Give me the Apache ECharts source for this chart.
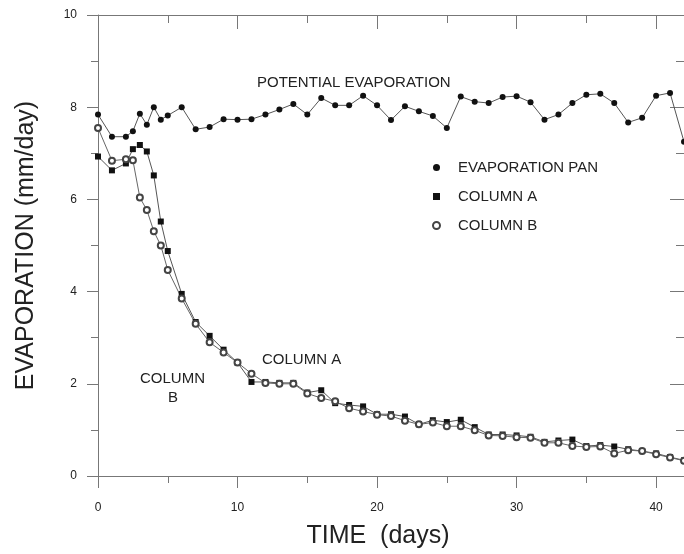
<!DOCTYPE html>
<html>
<head>
<meta charset="utf-8">
<title>Evaporation</title>
<script src="https://cdn.jsdelivr.net/npm/echarts@6/dist/echarts.min.js"></script>
<style>
  html, body { margin: 0; padding: 0; background: #fff; }
  #chart { width: 684px; height: 554px; }
</style>
</head>
<body>
<div id="chart"></div>
<script>
  // 时间 (days)
  var days = [0, 1, 2, 2.5, 3, 3.5, 4, 4.5, 5, 6, 7, 8, 9, 10, 11, 12, 13, 14, 15, 16, 17, 18, 19, 20,
    21, 22, 23, 24, 25, 26, 27, 28, 29, 30, 31, 32, 33, 34, 35, 36, 37, 38, 39, 40, 41, 42]

  // evaporation pan (potential evaporation)
  var panValues = [7.84, 7.36, 7.36, 7.48, 7.86, 7.62, 8.0, 7.73, 7.82, 8.0, 7.52, 7.57, 7.74, 7.73, 7.74,
    7.84, 7.95, 8.07, 7.84, 8.2, 8.04, 8.04, 8.25, 8.04, 7.72, 8.02, 7.91, 7.81, 7.55, 8.23, 8.12, 8.09,
    8.22, 8.24, 8.11, 7.73, 7.84, 8.09, 8.27, 8.29, 8.09, 7.67, 7.77, 8.25, 8.31, 7.25]

  var columnAValues = [6.93, 6.63, 6.78, 7.09, 7.18, 7.04, 6.52, 5.52, 4.88, 3.95, 3.34, 3.04, 2.74, 2.46,
    2.04, 2.04, 2.02, 2.02, 1.81, 1.86, 1.58, 1.54, 1.51, 1.34, 1.34, 1.29, 1.12, 1.21, 1.17, 1.22, 1.06,
    0.9, 0.9, 0.88, 0.85, 0.74, 0.77, 0.79, 0.65, 0.67, 0.64, 0.58, 0.54, 0.49, 0.41, 0.34]

  var columnBValues = [7.55, 6.84, 6.87, 6.85, 6.04, 5.77, 5.31, 5.0, 4.47, 3.85, 3.3, 2.9, 2.68, 2.46,
    2.22, 2.02, 2.0, 2.0, 1.79, 1.69, 1.62, 1.47, 1.4, 1.33, 1.3, 1.2, 1.12, 1.16, 1.08, 1.08, 0.99,
    0.88, 0.87, 0.84, 0.83, 0.72, 0.72, 0.65, 0.63, 0.64, 0.49, 0.56, 0.54, 0.47, 0.4, 0.33]

  var seriesNames = ['EVAPORATION PAN', 'COLUMN A', 'COLUMN B']

  var FONT = '"Liberation Sans", Arial, Helvetica, sans-serif'
  var AXIS_COLOR = '#777'
  var TEXT_COLOR = '#222'
  var NOTE_FONT = '15px ' + FONT

  function pairs(values) {
    return days.map(function (d, i) { return [d, values[i]] })
  }

  // 边框上的轴 (top / right): 只有刻度, 朝内
  function frameAxis(pos, max, interval) {
    return {
      type: 'value',
      position: pos,
      min: 0,
      max: max,
      interval: interval,
      axisLine: { show: true, onZero: false, lineStyle: { color: AXIS_COLOR, width: 1 } },
      axisTick: { show: true, inside: true, length: 14, lineStyle: { color: AXIS_COLOR } },
      minorTick: { show: true, splitNumber: 2, length: 8, lineStyle: { color: AXIS_COLOR } },
      axisLabel: { show: false },
      splitLine: { show: false }
    }
  }

  var chart = echarts.init(document.getElementById('chart'))

  chart.setOption({
    animation: false,
    textStyle: { fontFamily: FONT },
    grid: { left: 98, right: 0, top: 15, bottom: 72 },
    legend: {
      orient: 'vertical',
      left: 427,
      top: 154,
      itemWidth: 7,
      itemHeight: 7,
      itemGap: 12,
      data: [
        { name: seriesNames[0], icon: 'circle' },
        { name: seriesNames[1], icon: 'rect' },
        { name: seriesNames[2], icon: 'emptyCircle' }
      ],
      textStyle: { color: TEXT_COLOR, fontSize: 15, lineHeight: 17, padding: [0, 0, 0, 13], fontFamily: FONT }
    },
    xAxis: [
      {
        type: 'value',
        position: 'bottom',
        min: 0,
        max: 42,
        interval: 10,
        name: 'TIME  (days)',
        nameLocation: 'middle',
        nameGap: 48,
        nameTextStyle: { color: TEXT_COLOR, fontSize: 25, fontFamily: FONT, padding: [0, 26, 0, 0] },
        axisLine: { show: true, onZero: false, lineStyle: { color: AXIS_COLOR, width: 1 } },
        axisTick: { show: true, inside: false, length: 12, lineStyle: { color: AXIS_COLOR } },
        minorTick: { show: true, splitNumber: 2, length: 7, lineStyle: { color: AXIS_COLOR } },
        axisLabel: { color: TEXT_COLOR, fontSize: 12, margin: 26, showMaxLabel: false },
        splitLine: { show: false }
      },
      frameAxis('top', 42, 10)
    ],
    yAxis: [
      {
        type: 'value',
        position: 'left',
        min: 0,
        max: 10,
        interval: 2,
        name: 'EVAPORATION (mm/day)',
        nameLocation: 'middle',
        nameGap: 59,
        nameTextStyle: { color: TEXT_COLOR, fontSize: 25, fontFamily: FONT },
        axisLine: { show: true, onZero: false, lineStyle: { color: AXIS_COLOR, width: 1 } },
        axisTick: { show: true, inside: false, length: 11, lineStyle: { color: AXIS_COLOR } },
        minorTick: { show: true, splitNumber: 2, length: 7, lineStyle: { color: AXIS_COLOR } },
        axisLabel: { color: TEXT_COLOR, fontSize: 12, margin: 21 },
        splitLine: { show: false }
      },
      frameAxis('right', 10, 2)
    ],
    // 图中的文字注释
    graphic: [
      { type: 'text', left: 257, top: 75, style: { text: 'POTENTIAL EVAPORATION', fill: TEXT_COLOR, font: NOTE_FONT } },
      { type: 'text', left: 262, top: 352, style: { text: 'COLUMN A', fill: TEXT_COLOR, font: NOTE_FONT } },
      { type: 'text', left: 140, top: 371, style: { text: 'COLUMN', fill: TEXT_COLOR, font: NOTE_FONT } },
      { type: 'text', left: 168, top: 390, style: { text: 'B', fill: TEXT_COLOR, font: NOTE_FONT } }
    ],
    series: [
      {
        name: seriesNames[0],
        type: 'line',
        symbol: 'circle',
        symbolSize: 6,
        lineStyle: { color: '#555', width: 1 },
        itemStyle: { color: '#111' },
        data: pairs(panValues)
      },
      {
        name: seriesNames[1],
        type: 'line',
        symbol: 'rect',
        symbolSize: 6,
        lineStyle: { color: '#555', width: 1 },
        itemStyle: { color: '#111' },
        data: pairs(columnAValues)
      },
      {
        name: seriesNames[2],
        type: 'line',
        symbol: 'emptyCircle',
        symbolSize: 6,
        lineStyle: { color: '#666', width: 1 },
        itemStyle: { color: '#444', borderWidth: 1 },
        data: pairs(columnBValues)
      }
    ]
  })

  window.addEventListener('resize', function () {
    chart.resize()
  })
</script>
</body>
</html>
